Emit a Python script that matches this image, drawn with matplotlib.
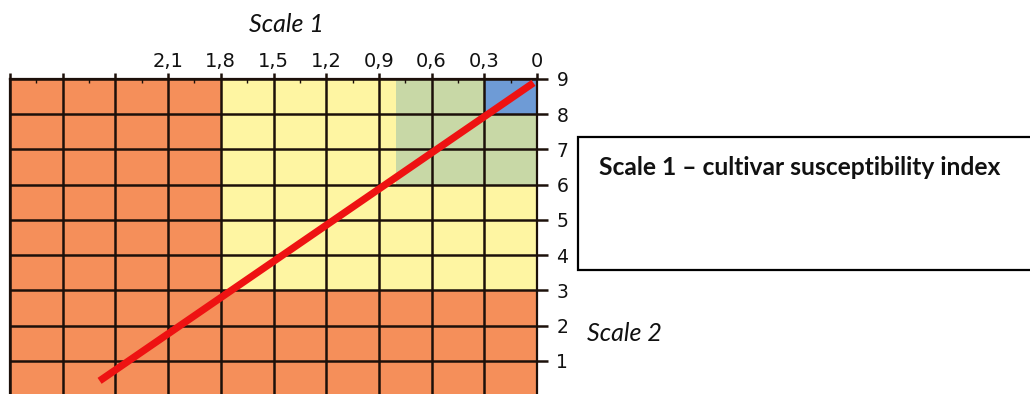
import matplotlib
matplotlib.use("Agg")
import matplotlib.pyplot as plt
from matplotlib.patches import Rectangle
import numpy as np

# ---- data ----
x_ticks = [0.0, 0.3, 0.6, 0.9, 1.2, 1.5, 1.8, 2.1, 2.4, 2.7, 3.0]
x_tick_labels = ["0", "0,3", "0,6", "0,9", "1,2", "1,5", "1,8", "2,1", "", "", ""]
x_minor = [0.15, 0.45, 0.75, 1.05, 1.35, 1.65, 1.95, 2.25, 2.55, 2.85]
y_ticks = [1, 2, 3, 4, 5, 6, 7, 8, 9]
y_tick_labels = ["1", "2", "3", "4", "5", "6", "7", "8", "9"]
y_grid = [0, 1, 2, 3, 4, 5, 6, 7, 8, 9]

# zones: (x_from, x_to, y_from, y_to)
zone_x0 = [0.0, 0.0, 0.0, 0.0]
zone_x1 = [3.0, 1.8, 0.8, 0.3]
zone_y0 = [0, 3, 6, 8]
zone_y1 = [9, 9, 9, 9]
zone_colors = ["#F58F5A", "#FEF5A2", "#C8D8A6", "#6E9BD6"]

line_x = [2.49, 0.02]
line_y = [0.43, 8.89]

W, H = 1030, 394
fig = plt.figure(figsize=(W / 100, H / 100), dpi=100)
fig.patch.set_facecolor("white")

left_px, right_px, top_px, bot_px = 10, 537, 79, 396
ax = fig.add_axes([left_px / W, (H - bot_px) / H, (right_px - left_px) / W, (bot_px - top_px) / H])

grid_col = "#1C100A"

for x0, x1, y0, y1, c in zip(zone_x0, zone_x1, zone_y0, zone_y1, zone_colors):
    ax.add_patch(Rectangle((x1, y0), x0 - x1, y1 - y0, facecolor=c, edgecolor="none", zorder=0))

ax.set_xlim(3.0, 0.0)
ax.set_ylim(0, 9)

for xv in x_ticks:
    ax.axvline(xv, color=grid_col, lw=1.8, zorder=2)
for yv in y_grid:
    ax.axhline(yv, color=grid_col, lw=1.8, zorder=2)

ax.plot(line_x, line_y, color="#EE1212", lw=5.2, solid_capstyle="butt", zorder=3, clip_on=False)

ax.xaxis.tick_top()
ax.set_xticks(x_ticks)
ax.set_xticklabels(x_tick_labels, family="DejaVu Sans")
ax.set_xticks(x_minor, minor=True)
ax.tick_params(axis="x", which="major", direction="out", length=4, width=1.8, color=grid_col,
               pad=2, labelsize=14, labelcolor="#111111")
ax.tick_params(axis="x", which="minor", direction="in", length=3, width=1.0, color=grid_col)

ax.yaxis.tick_right()
ax.set_yticks(y_ticks)
ax.set_yticklabels(y_tick_labels, family="DejaVu Sans")
ax.tick_params(axis="y", which="major", direction="out", length=8, width=1.8, color=grid_col,
               pad=6, labelsize=13.5, labelcolor="#111111")

for s in ax.spines.values():
    s.set_color(grid_col)
    s.set_linewidth(1.6)

def fy(py):
    return (H - py) / H

fig.text(249 / W, fy(32), "Scale 1", fontsize=18, style="italic", family="Lato",
         ha="left", va="baseline", color="#111111")
fig.text(587 / W, fy(341), "Scale 2", fontsize=18, style="italic", family="Lato",
         ha="left", va="baseline", color="#111111")

box = Rectangle((578 / W, fy(270)), (1040 - 578) / W, (270 - 137) / H, transform=fig.transFigure,
                facecolor="white", edgecolor="black", lw=1.6, clip_on=False)
fig.patches.append(box)
fig.text(599 / W, fy(175), "Scale 1 \u2013 cultivar susceptibility index", fontsize=17.7,
         weight="bold", family="Lato", ha="left", va="baseline", color="#111111")

fig.savefig("out.png", dpi=100)
